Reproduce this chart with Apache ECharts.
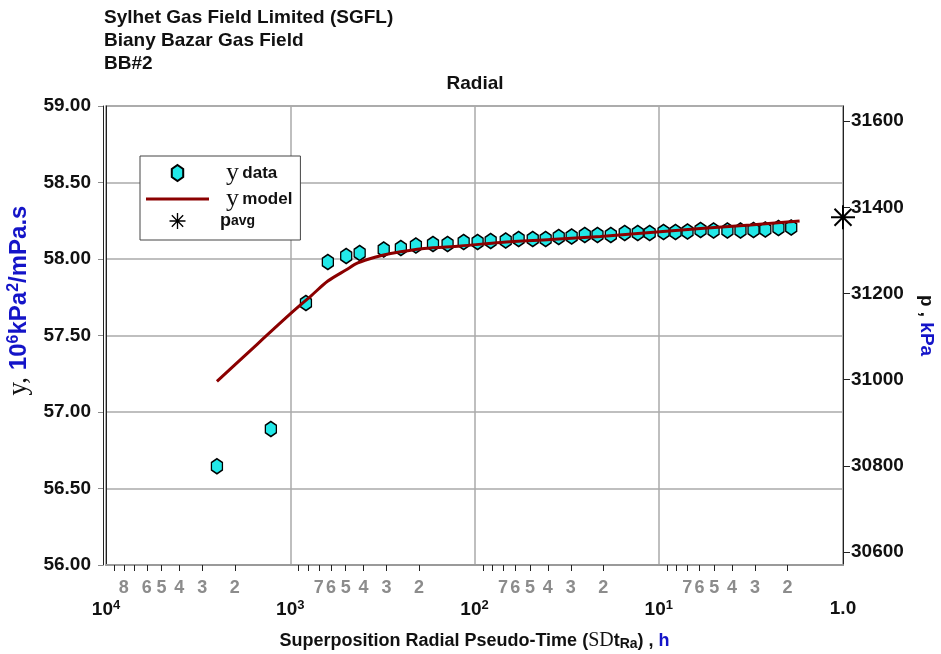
<!DOCTYPE html>
<html><head><meta charset="utf-8">
<script src="https://cdn.jsdelivr.net/npm/echarts@6/dist/echarts.min.js"></script>
<style>html,body{margin:0;padding:0;background:#fff}#c{width:941px;height:654px}</style>
</head><body><div id="c"></div>
<script>
// ---------------- data ----------------
const titleLines = ['Sylhet Gas Field Limited (SGFL)', 'Biany Bazar Gas Field', 'BB#2'];
const plotTitle = 'Radial';

// y data: superposition radial pseudo-time (h) vs y (10^6 kPa^2/mPa.s)
const dataTime = [2500, 1274, 822, 625, 497, 420, 311, 251, 208, 168, 140, 114.5, 96.2, 81.7, 67.7, 57.6, 48.3, 41.1, 34.9, 29.7, 25.2, 21.5, 18.2, 15.3, 13.0, 11.2, 9.42, 8.11, 6.98, 5.93, 5.04, 4.24, 3.60, 3.06, 2.64, 2.24, 1.91];
const dataY = [56.645, 56.889, 57.712, 57.980, 58.020, 58.039, 58.062, 58.072, 58.088, 58.098, 58.098, 58.111, 58.111, 58.118, 58.121, 58.131, 58.131, 58.131, 58.144, 58.147, 58.157, 58.157, 58.157, 58.170, 58.170, 58.170, 58.176, 58.176, 58.180, 58.190, 58.186, 58.186, 58.186, 58.190, 58.193, 58.203, 58.206];

// y model
const modelTime = [2500, 1636, 993, 773, 625, 499, 430, 343, 285, 188, 119, 72.1, 38.6, 20.7, 11.1, 5.93, 3.18, 1.72];
const modelY = [57.20, 57.405, 57.644, 57.758, 57.856, 57.928, 57.974, 58.013, 58.036, 58.069, 58.085, 58.108, 58.127, 58.147, 58.173, 58.199, 58.222, 58.248];

// p avg (right axis, kPa)
const pavgTime = [1];
const pavgP = [31377];

// axis ticks / labels
const rightTicks = [30600, 30800, 31000, 31200, 31400, 31600];
const majorTicks = [10000, 1000, 100, 10, 1];
const majorExp = {10000: '4', 1000: '3', 100: '2', 10: '1'};
const minorTicks = [9000, 8000, 7000, 6000, 5000, 4000, 3000, 2000,
                    900, 800, 700, 600, 500, 400, 300, 200,
                    90, 80, 70, 60, 50, 40, 30, 20,
                    9, 8, 7, 6, 5, 4, 3, 2];
const minorLabelValues = [8000, 6000, 5000, 4000, 3000, 2000,
                          700, 600, 500, 400, 300, 200,
                          70, 60, 50, 40, 30, 20,
                          7, 6, 5, 4, 3, 2];

// ---------------- chart ----------------
const SANS = 'Liberation Sans, Arial, sans-serif';
const SERIF = 'Liberation Serif, Times New Roman, serif';
const BLUE = '#1414c8';

const hexPath = 'path://M0,-7 L5,-3.5 L5,3.5 L0,7 L-5,3.5 L-5,-3.5 Z';
const starPath = 'path://M-1,-12 L1,-12 L1,12 L-1,12 Z M-12,-1 L12,-1 L12,1 L-12,1 Z ' +
  'M-7.8,-9.2 L9.2,7.8 L7.8,9.2 L-9.2,-7.8 Z M9.2,-7.8 L-7.8,9.2 L-9.2,7.8 L7.8,-9.2 Z';
const lineIcon = 'path://M0,0 L63,0 L63,3.2 L0,3.2 Z';

const chart = echarts.init(document.getElementById('c'), null, {renderer: 'canvas'});

const titles = titleLines.map((t, i) => ({
  text: t, left: 104, top: 8 + i * 23, padding: 0,
  textStyle: {fontFamily: SANS, fontSize: 19, fontWeight: 'bold', color: '#111'}
}));
titles.push({
  text: plotTitle, left: 475, top: 74, padding: 0, textAlign: 'center',
  textStyle: {fontFamily: SANS, fontSize: 19, fontWeight: 'bold', color: '#111'}
});

const logAxisBase = {type: 'log', logBase: 10, min: 1, max: 10000, inverse: true, position: 'bottom'};

const option = {
  animation: false,
  backgroundColor: '#fff',
  title: titles,
  grid: {left: 106, right: 98, top: 106, bottom: 89, show: true, borderColor: '#9a9a9a', borderWidth: 1.5,
         containLabel: false, outerBoundsMode: 'none'},
  legend: {
    orient: 'vertical', left: 140, top: 156,
    padding: [4, 8, 10, 6],
    itemWidth: 63, itemHeight: 16, itemGap: 0,
    borderColor: '#444', borderWidth: 1, backgroundColor: '#fff',
    data: ['ydata', {name: 'ymodel', icon: lineIcon}, 'pavg'],
    formatter: function (n) {
      if (n === 'ydata') return '{y|y} {s|data}';
      if (n === 'ymodel') return '{y|y} {s|model}';
      return '{p|p}{sub|avg}';
    },
    textStyle: {
      rich: {
        y: {fontFamily: SERIF, fontSize: 26, color: '#111', lineHeight: 20, padding: [0, 0, 0, 12]},
        s: {fontFamily: SANS, fontSize: 17, fontWeight: 'bold', color: '#111', lineHeight: 20},
        p: {fontFamily: SANS, fontSize: 18, fontWeight: 'bold', color: '#111', lineHeight: 20, padding: [0, 0, 0, 6]},
        sub: {fontFamily: SANS, fontSize: 14, fontWeight: 'bold', color: '#111', lineHeight: 20}
      }
    }
  },
  xAxis: [
    Object.assign({}, logAxisBase, {
      axisLine: {show: true, onZero: false, lineStyle: {color: '#9a9a9a', width: 2}},
      axisTick: {show: true, customValues: minorTicks, length: 6, inside: false, lineStyle: {color: '#222', width: 1}},
      minorTick: {show: false},
      axisLabel: {
        customValues: majorTicks, margin: 34,
        formatter: function (v) {
          const e = majorExp[Math.round(v)];
          return e ? '{b|10}{e|' + e + '}' : '{b|1.0}';
        },
        rich: {
          b: {fontFamily: SANS, fontSize: 19, fontWeight: 'bold', color: '#111'},
          e: {fontFamily: SANS, fontSize: 13, fontWeight: 'bold', color: '#111', padding: [0, 0, 8, 0]}
        }
      },
      splitLine: {show: false},
      name: '{a|Superposition Radial Pseudo-Time (}{sd|SD}{a|t}{sub|Ra}{a|) , }{h|h}',
      nameLocation: 'middle', nameGap: 66,
      nameTextStyle: {
        rich: {
          a: {fontFamily: SANS, fontSize: 18, fontWeight: 'bold', color: '#111'},
          sd: {fontFamily: SERIF, fontSize: 20, color: '#111'},
          sub: {fontFamily: SANS, fontSize: 14, fontWeight: 'bold', color: '#111', padding: [6, 0, 0, 0]},
          h: {fontFamily: SANS, fontSize: 18, fontWeight: 'bold', color: BLUE}
        }
      }
    }),
    Object.assign({}, logAxisBase, {
      axisLine: {show: false}, axisTick: {show: false}, splitLine: {show: false},
      axisLabel: {
        customValues: minorLabelValues, margin: 14,
        formatter: function (v) {
          const e = Math.floor(Math.log10(v) + 1e-9);
          return String(Math.round(v / Math.pow(10, e)));
        },
        fontFamily: SANS, fontSize: 18, fontWeight: 'bold', color: '#8c8c8c'
      }
    }),
    Object.assign({}, logAxisBase, {
      axisLine: {show: false}, axisTick: {show: false}, axisLabel: {show: false},
      splitLine: {show: true, lineStyle: {color: '#aaaaaa', width: 1.5}}
    })
  ],
  yAxis: [
    {
      type: 'value', min: 56, max: 59, interval: 0.5, position: 'left', offset: 3,
      axisLine: {show: true, onZero: false, lineStyle: {color: '#222', width: 1}},
      axisTick: {show: true, length: 5, lineStyle: {color: '#8c8c8c', width: 1}},
      axisLabel: {
        margin: 12, formatter: v => v.toFixed(2),
        fontFamily: SANS, fontSize: 19, fontWeight: 'bold', color: '#111'
      },
      splitLine: {show: true, lineStyle: {color: '#aaaaaa', width: 1.5}},
      name: '{y|y, }{b|10}{e|6}{b|kPa}{e|2}{b|/mPa.s}',
      nameLocation: 'middle', nameRotate: 90, nameGap: 70,
      nameTextStyle: {
        padding: [0, 0, 0, 70],
        rich: {
          y: {fontFamily: SERIF, fontSize: 27, color: '#111'},
          b: {fontFamily: SANS, fontSize: 24, fontWeight: 'bold', color: BLUE},
          e: {fontFamily: SANS, fontSize: 16, fontWeight: 'bold', color: BLUE, padding: [0, 0, 10, 0]}
        }
      }
    },
    {
      type: 'value', min: 30570, max: 31635, position: 'right',
      axisLine: {show: true, onZero: false, lineStyle: {color: '#222', width: 1}},
      axisTick: {show: true, customValues: rightTicks, length: 7, lineStyle: {color: '#222', width: 1}},
      axisLabel: {
        customValues: rightTicks, margin: 8, formatter: v => String(v),
        fontFamily: SANS, fontSize: 19, fontWeight: 'bold', color: '#111'
      },
      splitLine: {show: false},
      name: '{a|p , }{b|kPa}',
      nameLocation: 'middle', nameRotate: -90, nameGap: 74,
      nameTextStyle: {
        padding: [0, 20, 0, 0],
        rich: {
          a: {fontFamily: SANS, fontSize: 19, fontWeight: 'bold', color: '#111'},
          b: {fontFamily: SANS, fontSize: 19, fontWeight: 'bold', color: BLUE}
        }
      }
    },
    {
      type: 'value', min: 56, max: 59, position: 'left', offset: 0,
      axisLine: {show: true, onZero: false, lineStyle: {color: '#222', width: 1}},
      axisTick: {show: false}, axisLabel: {show: false}, splitLine: {show: false}
    }
  ],
  series: [
    {
      name: 'ydata', type: 'scatter', xAxisIndex: 0, yAxisIndex: 0,
      data: dataTime.map((t, i) => [t, dataY[i]]),
      symbol: hexPath, symbolSize: [11, 15],
      itemStyle: {color: '#22e8e8', borderColor: '#000', borderWidth: 1.5, opacity: 1},
      z: 3
    },
    {
      name: 'ymodel', type: 'line', xAxisIndex: 0, yAxisIndex: 0,
      data: modelTime.map((t, i) => [t, modelY[i]]),
      symbol: 'none', smooth: 0.3,
      lineStyle: {color: '#8b0000', width: 3},
      itemStyle: {color: '#8b0000'},
      z: 4
    },
    {
      name: 'pavg', type: 'scatter', xAxisIndex: 0, yAxisIndex: 1,
      data: pavgTime.map((t, i) => [t, pavgP[i]]),
      symbol: starPath, symbolSize: 24, clip: false,
      itemStyle: {color: '#000', opacity: 1},
      z: 5
    }
  ]
};
chart.setOption(option);
</script>
</body></html>
